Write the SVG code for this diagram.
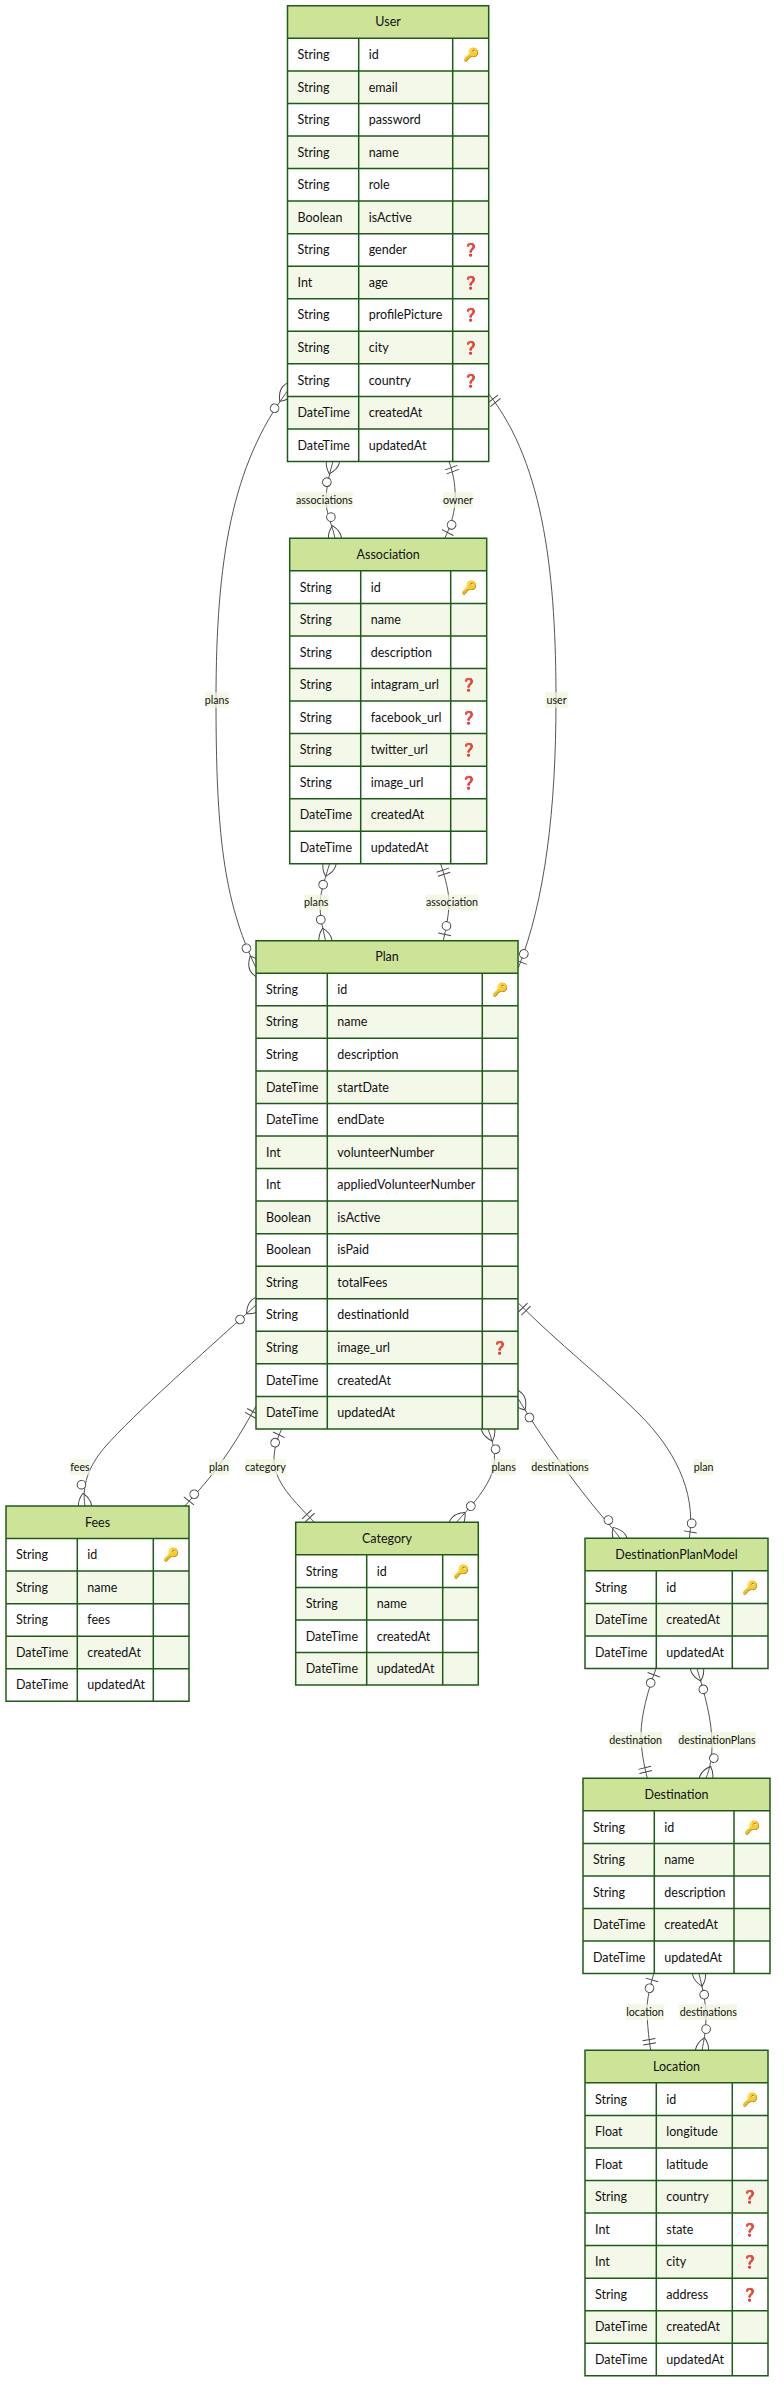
<svg xmlns="http://www.w3.org/2000/svg" width="784" height="2407" viewBox="0 0 784 2407">
<style>
text{font-family:"Lato","Liberation Sans",sans-serif;font-size:12.5px;fill:#111}
.h{text-anchor:middle}
.l{font-size:10.7px;text-anchor:middle}
.e{fill:#fff}.o{fill:#f3f8e8}.hd{fill:#cde498}
.g{fill:none;stroke:#1f5b18;stroke-width:1.5}
.k{text-anchor:middle;fill:#f7b93f;font-size:13px}
.q{text-anchor:middle;fill:#f0303a;stroke:#f0303a;stroke-width:.5;font-size:12.5px;font-weight:bold}
.c{fill:none;stroke:#555;stroke-width:1}
.m{fill:none;stroke:#444;stroke-width:1.35}
.lb{fill:#eff6dd}
</style>
<defs>
<marker id="oneS" viewBox="0 0 18 36" refX="0" refY="18" markerWidth="13" markerHeight="26" markerUnits="userSpaceOnUse" orient="auto" overflow="visible"><path class="m" d="M9,9V27M15,9V27"/></marker>
<marker id="oneE" viewBox="0 0 18 36" refX="18" refY="18" markerWidth="13" markerHeight="26" markerUnits="userSpaceOnUse" orient="auto" overflow="visible"><path class="m" d="M3,9V27M9,9V27"/></marker>
<marker id="zoS" viewBox="0 0 30 36" refX="0" refY="18" markerWidth="21.6" markerHeight="26" markerUnits="userSpaceOnUse" orient="auto" overflow="visible"><circle cx="21" cy="18" r="6" fill="#fff" stroke="#444" stroke-width="1.35"/><path class="m" d="M9,9V27"/></marker>
<marker id="zoE" viewBox="0 0 30 36" refX="30" refY="18" markerWidth="21.6" markerHeight="26" markerUnits="userSpaceOnUse" orient="auto" overflow="visible"><circle cx="9" cy="18" r="6" fill="#fff" stroke="#444" stroke-width="1.35"/><path class="m" d="M21,9V27"/></marker>
<marker id="zmS" viewBox="0 0 57 36" refX="18" refY="18" markerWidth="41" markerHeight="26" markerUnits="userSpaceOnUse" orient="auto" overflow="visible"><circle cx="48" cy="18" r="6" fill="#fff" stroke="#444" stroke-width="1.35"/><path class="m" d="M0,18Q18,0 36,18Q18,36 0,18"/></marker>
<marker id="zmE" viewBox="0 0 57 36" refX="39" refY="18" markerWidth="41" markerHeight="26" markerUnits="userSpaceOnUse" orient="auto" overflow="visible"><circle cx="9" cy="18" r="6" fill="#fff" stroke="#444" stroke-width="1.35"/><path class="m" d="M21,18Q39,0 57,18Q39,36 21,18"/></marker>
</defs>
<rect width="784" height="2407" fill="#fff"/>
<g id="connectors">
<path class="c" marker-start="url(#zmS)" marker-end="url(#zmE)" d="M287.5,391C232,465 216,560 216,700C216,830 223,900 255.9,967.7"/>
<path class="c" marker-start="url(#oneS)" marker-end="url(#zoE)" d="M488.7,394C545,465 556,580 556,700C556,810 545,900 518.3,968"/>
<path class="c" marker-start="url(#zmS)" marker-end="url(#zmE)" d="M333,461.5C326,485 325,500 327,510C329,520 333,528 335,538.3"/>
<path class="c" marker-start="url(#oneS)" marker-end="url(#zoE)" d="M449,461.5C454,475 456,490 455,503C454,515 450,528 444.7,538.3"/>
<path class="c" marker-start="url(#zmS)" marker-end="url(#zmE)" d="M329.5,864C323,885 320,895 320,905C320,915 322,925 325.5,940.7"/>
<path class="c" marker-start="url(#oneS)" marker-end="url(#zoE)" d="M440.7,864C446,880 449,893 449,903C449,915 446,928 443.3,940.7"/>
<path class="c" marker-start="url(#zmS)" marker-end="url(#zmE)" d="M256,1305C200,1356 135,1413 105,1447C92,1462 81,1482 85,1506"/>
<path class="c" marker-start="url(#oneS)" marker-end="url(#zoE)" d="M256,1406C240,1435 222,1465 195.7,1494C192,1498 188,1502 184.8,1506"/>
<path class="c" marker-start="url(#zoS)" marker-end="url(#oneE)" d="M281.7,1429C274,1445 272,1460 276,1472C282,1490 298,1505 314.3,1522.3"/>
<path class="c" marker-start="url(#zmS)" marker-end="url(#zmE)" d="M488,1429C494,1445 498,1460 490,1478C482,1495 470,1507 456.5,1522.3"/>
<path class="c" marker-start="url(#zmS)" marker-end="url(#zmE)" d="M518.3,1399C540,1435 575,1485 606,1521C611,1527 616,1532 620,1538.3"/>
<path class="c" marker-start="url(#oneS)" marker-end="url(#zoE)" d="M518.3,1303C560,1345 600,1375 640,1415C672,1447 697,1490 689.3,1538.3"/>
<path class="c" marker-start="url(#zoS)" marker-end="url(#oneE)" d="M656,1668.7C648,1690 641,1715 641,1735C641,1750 644,1765 647.3,1778.3"/>
<path class="c" marker-start="url(#zmS)" marker-end="url(#zmE)" d="M697,1668.7C705,1695 712,1720 712,1745C712,1758 710,1768 706,1778.3"/>
<path class="c" marker-start="url(#zoS)" marker-end="url(#oneE)" d="M653.7,1973.7C649,1990 646,2005 647,2015C648,2030 649,2040 650.7,2050.3"/>
<path class="c" marker-start="url(#zmS)" marker-end="url(#zmE)" d="M699,1973.7C703,1990 706,2005 706,2015C706,2030 704,2040 702,2050.3"/>
</g>
<g id="labels">
<g opacity=".75"><rect class="lb" x="296" y="492.3" width="56.7" height="15.4"/><rect class="lb" x="443.3" y="492.3" width="29.4" height="15.4"/><rect class="lb" x="205" y="692.3" width="24" height="15.4"/><rect class="lb" x="545" y="692.3" width="23" height="15.4"/><rect class="lb" x="304" y="894.7" width="24.7" height="15.4"/><rect class="lb" x="426" y="894.7" width="52.3" height="15.4"/><rect class="lb" x="70" y="1459.3" width="20" height="15.6"/><rect class="lb" x="209" y="1459.3" width="20.3" height="15.6"/><rect class="lb" x="245" y="1459.3" width="41" height="15.6"/><rect class="lb" x="491.3" y="1459.3" width="24.7" height="15.6"/><rect class="lb" x="531" y="1459.3" width="58" height="15.6"/><rect class="lb" x="693.7" y="1459.3" width="20" height="15.6"/><rect class="lb" x="609" y="1732" width="53" height="15.7"/><rect class="lb" x="678" y="1732" width="78" height="15.7"/><rect class="lb" x="626" y="2004.3" width="38" height="15.7"/><rect class="lb" x="679.3" y="2004.3" width="57.7" height="15.7"/></g>
<text class="l" x="324.3" y="504">associations</text><text class="l" x="458" y="504">owner</text><text class="l" x="217" y="704">plans</text><text class="l" x="556.5" y="704">user</text><text class="l" x="316.3" y="906.4">plans</text><text class="l" x="452" y="906.4">association</text><text class="l" x="80" y="1471">fees</text><text class="l" x="219" y="1471">plan</text><text class="l" x="265.3" y="1471">category</text><text class="l" x="503.7" y="1471">plans</text><text class="l" x="560" y="1471">destinations</text><text class="l" x="703.7" y="1471">plan</text><text class="l" x="635.7" y="1743.7">destination</text><text class="l" x="717" y="1743.7">destinationPlans</text><text class="l" x="645" y="2016">location</text><text class="l" x="708.3" y="2016">destinations</text>
</g>
<g id="node-User" transform="translate(287.5,5.8)">
<rect class="e" width="201.2" height="455.7"/><rect class="hd" width="201.2" height="32.55"/><rect class="o" y="65.1" width="201.2" height="32.55"/><rect class="o" y="130.2" width="201.2" height="32.55"/><rect class="o" y="195.3" width="201.2" height="32.55"/><rect class="o" y="260.4" width="201.2" height="32.55"/><rect class="o" y="325.5" width="201.2" height="32.55"/><rect class="o" y="390.6" width="201.2" height="32.55"/>
<path class="g" d="M0,0H201.2V455.7H0ZM0,32.55H201.2M0,65.1H201.2M0,97.65H201.2M0,130.2H201.2M0,162.75H201.2M0,195.3H201.2M0,227.85H201.2M0,260.4H201.2M0,292.95H201.2M0,325.5H201.2M0,358.05H201.2M0,390.6H201.2M0,423.15H201.2M71.2,32.55V455.7M165.2,32.55V455.7"/>
<text class="h" x="100.6" y="20.7">User</text>
<text x="10" y="53.25">String</text><text x="81.2" y="53.25">id</text><text class="k" x="183.2" y="53.25">🔑</text>
<text x="10" y="85.8">String</text><text x="81.2" y="85.8">email</text>
<text x="10" y="118.35">String</text><text x="81.2" y="118.35">password</text>
<text x="10" y="150.9">String</text><text x="81.2" y="150.9">name</text>
<text x="10" y="183.45">String</text><text x="81.2" y="183.45">role</text>
<text x="10" y="216">Boolean</text><text x="81.2" y="216">isActive</text>
<text x="10" y="248.55">String</text><text x="81.2" y="248.55">gender</text><text class="q" x="183.2" y="248.55">❓</text>
<text x="10" y="281.1">Int</text><text x="81.2" y="281.1">age</text><text class="q" x="183.2" y="281.1">❓</text>
<text x="10" y="313.65">String</text><text x="81.2" y="313.65">profilePicture</text><text class="q" x="183.2" y="313.65">❓</text>
<text x="10" y="346.2">String</text><text x="81.2" y="346.2">city</text><text class="q" x="183.2" y="346.2">❓</text>
<text x="10" y="378.75">String</text><text x="81.2" y="378.75">country</text><text class="q" x="183.2" y="378.75">❓</text>
<text x="10" y="411.3">DateTime</text><text x="81.2" y="411.3">createdAt</text>
<text x="10" y="443.85">DateTime</text><text x="81.2" y="443.85">updatedAt</text>
</g>
<g id="node-Association" transform="translate(289.7,538.3)">
<rect class="e" width="197" height="325.5"/><rect class="hd" width="197" height="32.55"/><rect class="o" y="65.1" width="197" height="32.55"/><rect class="o" y="130.2" width="197" height="32.55"/><rect class="o" y="195.3" width="197" height="32.55"/><rect class="o" y="260.4" width="197" height="32.55"/>
<path class="g" d="M0,0H197V325.5H0ZM0,32.55H197M0,65.1H197M0,97.65H197M0,130.2H197M0,162.75H197M0,195.3H197M0,227.85H197M0,260.4H197M0,292.95H197M71,32.55V325.5M161,32.55V325.5"/>
<text class="h" x="98.5" y="20.7">Association</text>
<text x="10" y="53.25">String</text><text x="81" y="53.25">id</text><text class="k" x="179" y="53.25">🔑</text>
<text x="10" y="85.8">String</text><text x="81" y="85.8">name</text>
<text x="10" y="118.35">String</text><text x="81" y="118.35">description</text>
<text x="10" y="150.9">String</text><text x="81" y="150.9">intagram_url</text><text class="q" x="179" y="150.9">❓</text>
<text x="10" y="183.45">String</text><text x="81" y="183.45">facebook_url</text><text class="q" x="179" y="183.45">❓</text>
<text x="10" y="216">String</text><text x="81" y="216">twitter_url</text><text class="q" x="179" y="216">❓</text>
<text x="10" y="248.55">String</text><text x="81" y="248.55">image_url</text><text class="q" x="179" y="248.55">❓</text>
<text x="10" y="281.1">DateTime</text><text x="81" y="281.1">createdAt</text>
<text x="10" y="313.65">DateTime</text><text x="81" y="313.65">updatedAt</text>
</g>
<g id="node-Plan" transform="translate(256,940.7)">
<rect class="e" width="262" height="488.25"/><rect class="hd" width="262" height="32.55"/><rect class="o" y="65.1" width="262" height="32.55"/><rect class="o" y="130.2" width="262" height="32.55"/><rect class="o" y="195.3" width="262" height="32.55"/><rect class="o" y="260.4" width="262" height="32.55"/><rect class="o" y="325.5" width="262" height="32.55"/><rect class="o" y="390.6" width="262" height="32.55"/><rect class="o" y="455.7" width="262" height="32.55"/>
<path class="g" d="M0,0H262V488.25H0ZM0,32.55H262M0,65.1H262M0,97.65H262M0,130.2H262M0,162.75H262M0,195.3H262M0,227.85H262M0,260.4H262M0,292.95H262M0,325.5H262M0,358.05H262M0,390.6H262M0,423.15H262M0,455.7H262M71.3,32.55V488.25M226.3,32.55V488.25"/>
<text class="h" x="131" y="20.7">Plan</text>
<text x="10" y="53.25">String</text><text x="81.3" y="53.25">id</text><text class="k" x="244" y="53.25">🔑</text>
<text x="10" y="85.8">String</text><text x="81.3" y="85.8">name</text>
<text x="10" y="118.35">String</text><text x="81.3" y="118.35">description</text>
<text x="10" y="150.9">DateTime</text><text x="81.3" y="150.9">startDate</text>
<text x="10" y="183.45">DateTime</text><text x="81.3" y="183.45">endDate</text>
<text x="10" y="216">Int</text><text x="81.3" y="216">volunteerNumber</text>
<text x="10" y="248.55">Int</text><text x="81.3" y="248.55">appliedVolunteerNumber</text>
<text x="10" y="281.1">Boolean</text><text x="81.3" y="281.1">isActive</text>
<text x="10" y="313.65">Boolean</text><text x="81.3" y="313.65">isPaid</text>
<text x="10" y="346.2">String</text><text x="81.3" y="346.2">totalFees</text>
<text x="10" y="378.75">String</text><text x="81.3" y="378.75">destinationId</text>
<text x="10" y="411.3">String</text><text x="81.3" y="411.3">image_url</text><text class="q" x="244" y="411.3">❓</text>
<text x="10" y="443.85">DateTime</text><text x="81.3" y="443.85">createdAt</text>
<text x="10" y="476.4">DateTime</text><text x="81.3" y="476.4">updatedAt</text>
</g>
<g id="node-Fees" transform="translate(6,1506)">
<rect class="e" width="183" height="195.3"/><rect class="hd" width="183" height="32.55"/><rect class="o" y="65.1" width="183" height="32.55"/><rect class="o" y="130.2" width="183" height="32.55"/>
<path class="g" d="M0,0H183V195.3H0ZM0,32.55H183M0,65.1H183M0,97.65H183M0,130.2H183M0,162.75H183M71.3,32.55V195.3M147.3,32.55V195.3"/>
<text class="h" x="91.5" y="20.7">Fees</text>
<text x="10" y="53.25">String</text><text x="81.3" y="53.25">id</text><text class="k" x="165" y="53.25">🔑</text>
<text x="10" y="85.8">String</text><text x="81.3" y="85.8">name</text>
<text x="10" y="118.35">String</text><text x="81.3" y="118.35">fees</text>
<text x="10" y="150.9">DateTime</text><text x="81.3" y="150.9">createdAt</text>
<text x="10" y="183.45">DateTime</text><text x="81.3" y="183.45">updatedAt</text>
</g>
<g id="node-Category" transform="translate(295.7,1522.3)">
<rect class="e" width="182.6" height="162.75"/><rect class="hd" width="182.6" height="32.55"/><rect class="o" y="65.1" width="182.6" height="32.55"/><rect class="o" y="130.2" width="182.6" height="32.55"/>
<path class="g" d="M0,0H182.6V162.75H0ZM0,32.55H182.6M0,65.1H182.6M0,97.65H182.6M0,130.2H182.6M71,32.55V162.75M147,32.55V162.75"/>
<text class="h" x="91.3" y="20.7">Category</text>
<text x="10" y="53.25">String</text><text x="81" y="53.25">id</text><text class="k" x="165" y="53.25">🔑</text>
<text x="10" y="85.8">String</text><text x="81" y="85.8">name</text>
<text x="10" y="118.35">DateTime</text><text x="81" y="118.35">createdAt</text>
<text x="10" y="150.9">DateTime</text><text x="81" y="150.9">updatedAt</text>
</g>
<g id="node-DestinationPlanModel" transform="translate(585,1538.3)">
<rect class="e" width="183" height="130.2"/><rect class="hd" width="183" height="32.55"/><rect class="o" y="65.1" width="183" height="32.55"/>
<path class="g" d="M0,0H183V130.2H0ZM0,32.55H183M0,65.1H183M0,97.65H183M71.3,32.55V130.2M147.3,32.55V130.2"/>
<text class="h" x="91.5" y="20.7">DestinationPlanModel</text>
<text x="10" y="53.25">String</text><text x="81.3" y="53.25">id</text><text class="k" x="165" y="53.25">🔑</text>
<text x="10" y="85.8">DateTime</text><text x="81.3" y="85.8">createdAt</text>
<text x="10" y="118.35">DateTime</text><text x="81.3" y="118.35">updatedAt</text>
</g>
<g id="node-Destination" transform="translate(583,1778.3)">
<rect class="e" width="187" height="195.3"/><rect class="hd" width="187" height="32.55"/><rect class="o" y="65.1" width="187" height="32.55"/><rect class="o" y="130.2" width="187" height="32.55"/>
<path class="g" d="M0,0H187V195.3H0ZM0,32.55H187M0,65.1H187M0,97.65H187M0,130.2H187M0,162.75H187M71.3,32.55V195.3M151,32.55V195.3"/>
<text class="h" x="93.5" y="20.7">Destination</text>
<text x="10" y="53.25">String</text><text x="81.3" y="53.25">id</text><text class="k" x="169" y="53.25">🔑</text>
<text x="10" y="85.8">String</text><text x="81.3" y="85.8">name</text>
<text x="10" y="118.35">String</text><text x="81.3" y="118.35">description</text>
<text x="10" y="150.9">DateTime</text><text x="81.3" y="150.9">createdAt</text>
<text x="10" y="183.45">DateTime</text><text x="81.3" y="183.45">updatedAt</text>
</g>
<g id="node-Location" transform="translate(585,2050.3)">
<rect class="e" width="183" height="325.5"/><rect class="hd" width="183" height="32.55"/><rect class="o" y="65.1" width="183" height="32.55"/><rect class="o" y="130.2" width="183" height="32.55"/><rect class="o" y="195.3" width="183" height="32.55"/><rect class="o" y="260.4" width="183" height="32.55"/>
<path class="g" d="M0,0H183V325.5H0ZM0,32.55H183M0,65.1H183M0,97.65H183M0,130.2H183M0,162.75H183M0,195.3H183M0,227.85H183M0,260.4H183M0,292.95H183M71.3,32.55V325.5M147.3,32.55V325.5"/>
<text class="h" x="91.5" y="20.7">Location</text>
<text x="10" y="53.25">String</text><text x="81.3" y="53.25">id</text><text class="k" x="165" y="53.25">🔑</text>
<text x="10" y="85.8">Float</text><text x="81.3" y="85.8">longitude</text>
<text x="10" y="118.35">Float</text><text x="81.3" y="118.35">latitude</text>
<text x="10" y="150.9">String</text><text x="81.3" y="150.9">country</text><text class="q" x="165" y="150.9">❓</text>
<text x="10" y="183.45">Int</text><text x="81.3" y="183.45">state</text><text class="q" x="165" y="183.45">❓</text>
<text x="10" y="216">Int</text><text x="81.3" y="216">city</text><text class="q" x="165" y="216">❓</text>
<text x="10" y="248.55">String</text><text x="81.3" y="248.55">address</text><text class="q" x="165" y="248.55">❓</text>
<text x="10" y="281.1">DateTime</text><text x="81.3" y="281.1">createdAt</text>
<text x="10" y="313.65">DateTime</text><text x="81.3" y="313.65">updatedAt</text>
</g>
</svg>
